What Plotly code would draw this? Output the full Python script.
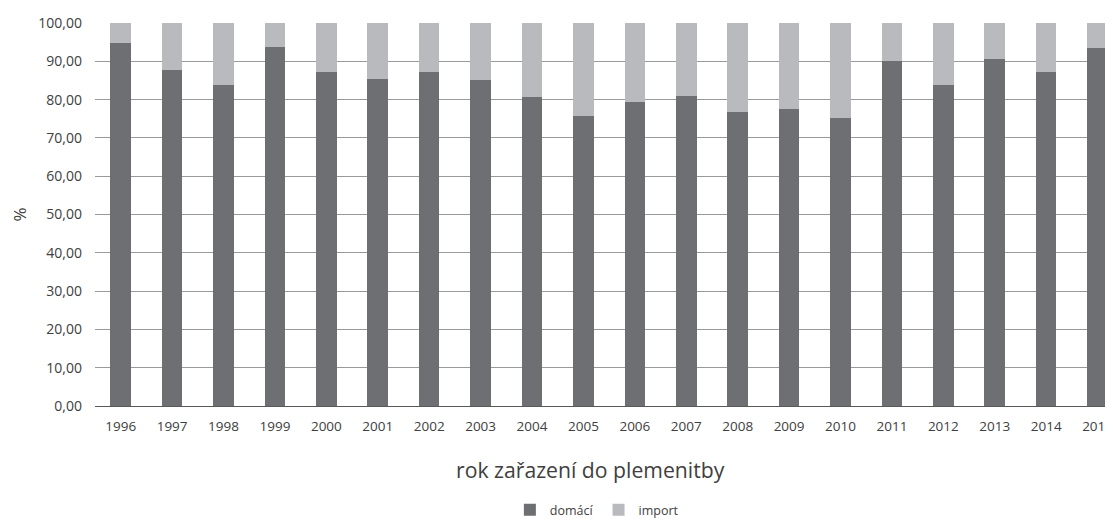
import plotly.graph_objects as go

years = [str(y) for y in range(1996, 2016)]
domaci = [94.8, 87.7, 83.9, 93.7, 87.2, 85.5, 87.2, 85.2, 80.6, 75.7,
          79.4, 80.9, 76.8, 77.6, 75.1, 90.1, 83.8, 90.6, 87.1, 93.5]
imp = [round(100 - v, 2) for v in domaci]
x_title = "rok zařazení do plemenitby"
y_title = "%"

FONT = "Open Sans"
fig = go.Figure()
fig.add_trace(go.Bar(x=years, y=domaci, name="domácí", marker_color="#6e6f73",
                     marker_line_width=0))
fig.add_trace(go.Bar(x=years, y=imp, name="import", marker_color="#b9babd",
                     marker_line_width=0))

# page body has an 8px default margin, so the figure is 8px smaller
fig.update_layout(
    width=1105, height=515,
    barmode="stack", bargap=0.6,
    separators=", ",
    plot_bgcolor="white", paper_bgcolor="white",
    margin=dict(l=87, r=0, t=15, b=117, autoexpand=False),
    font=dict(family=FONT, color="#404040", size=14),
    showlegend=True,
    legend=dict(orientation="h", x=0.493, xanchor="center", y=-0.272, yanchor="middle",
                font=dict(size=12.5, color="#404040"), itemwidth=30, traceorder="normal"),
    xaxis=dict(range=[-0.5, 19.3], showgrid=False, ticks="", ticklabelstandoff=10,
               showline=False, automargin=False, tickfont=dict(size=13.5)),
    yaxis=dict(range=[0, 100], dtick=10, tickformat=".2f", showgrid=True, automargin=False,
               gridcolor="#9a9a9a", gridwidth=1, zeroline=True, zerolinecolor="#595959",
               zerolinewidth=1, ticks="", ticklabelstandoff=12,
               title=dict(text=y_title, font=dict(size=17, color="#404040"), standoff=22)),
    annotations=[dict(text=x_title, xref="paper", yref="paper", x=0.487, y=-0.167,
                      xanchor="center", yanchor="middle", showarrow=False,
                      font=dict(size=21.2, color="#404040"))],
)
fig.write_html("out.html")
